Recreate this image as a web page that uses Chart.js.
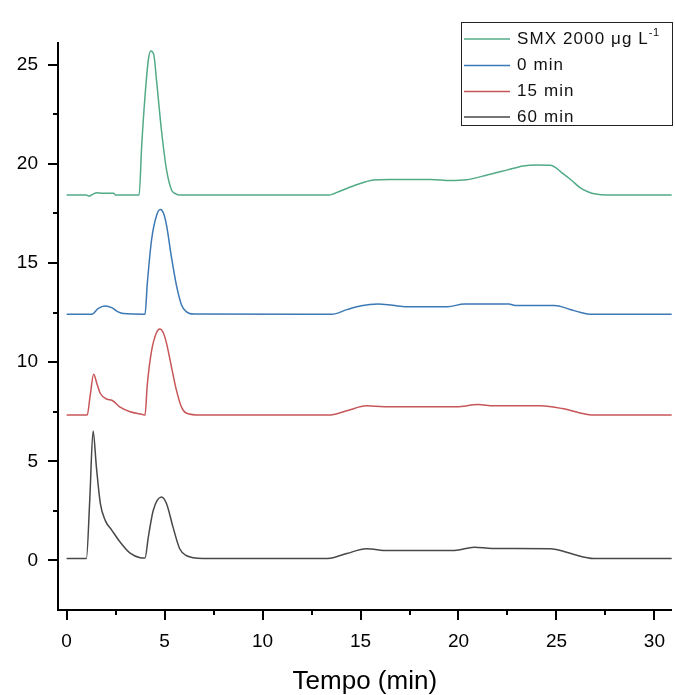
<!DOCTYPE html>
<html>
<head>
<meta charset="utf-8">
<script src="https://cdn.jsdelivr.net/npm/chart.js@4/dist/chart.umd.min.js"></script>
<style>
  body { margin: 0; background: #fff; }
  #wrap { width: 675px; height: 695px; position: relative; }
</style>
</head>
<body>
<div id="wrap"><canvas id="chart"></canvas></div>
<script>
// ─── DATA ───
const legendLabels = ['SMX 2000 μg L⁻¹', '0 min', '15 min', '60 min'];
const lineColors = ['#52ab87', '#3c78b5', '#c85658', '#484848'];

const smxTime = [0, 1.0, 1.15, 1.3, 1.55, 1.8, 2.4, 2.5, 3.7, 3.83, 4.0, 4.17, 4.3, 4.45, 4.59, 4.84, 5.1, 5.35, 5.55, 5.8,
  13.37, 14.0, 14.8, 15.65, 16.5, 18.6, 19.6, 20.4, 21.5, 22.5, 23.3, 24.0, 24.7, 25.35, 25.8, 26.2, 26.6, 27.0, 27.6, 31];
const smxValues = [18.43, 18.43, 18.38, 18.45, 18.55, 18.52, 18.52, 18.43, 18.43, 20.9, 23.4, 25.25, 25.7, 25.5, 24.2, 21.7, 19.7, 18.7, 18.5, 18.43,
  18.43, 18.65, 18.95, 19.19, 19.22, 19.22, 19.16, 19.2, 19.45, 19.7, 19.9, 19.95, 19.93, 19.5, 19.15, 18.8, 18.6, 18.48, 18.43, 18.43];

const t0Time = [0, 1.3, 1.6, 1.97, 2.3, 2.6, 2.9, 4.0, 4.12, 4.34, 4.59, 4.78, 4.95, 5.1, 5.35, 5.6, 5.86, 6.1, 6.5,
  13.54, 14.3, 15.04, 15.9, 16.4, 17.25, 19.44, 20.3, 22.57, 22.9, 24.9, 25.7, 26.2, 26.8, 31];
const t0Values = [12.42, 12.42, 12.7, 12.83, 12.75, 12.55, 12.45, 12.42, 14.0, 16.2, 17.4, 17.7, 17.5, 16.9, 15.3, 13.9, 12.9, 12.55, 12.43,
  12.42, 12.65, 12.85, 12.93, 12.9, 12.8, 12.8, 12.93, 12.93, 12.86, 12.86, 12.66, 12.52, 12.42, 12.42];

const t15Time = [0, 1.05, 1.2, 1.38, 1.55, 1.72, 2.06, 2.31, 2.73, 3.24, 3.83, 4.0, 4.12, 4.34, 4.59, 4.76, 4.95, 5.1, 5.35, 5.6, 5.86, 6.1, 6.87,
  13.37, 14.3, 15.3, 16.2, 19.9, 21.0, 21.8, 24.2, 25.3, 26.2, 26.9, 31];
const t15Values = [7.33, 7.33, 8.3, 9.39, 8.9, 8.42, 8.13, 8.08, 7.73, 7.5, 7.37, 7.33, 8.9, 10.6, 11.5, 11.67, 11.45, 10.95, 9.76, 8.6, 7.74, 7.44, 7.33,
  7.33, 7.55, 7.8, 7.75, 7.75, 7.86, 7.8, 7.8, 7.66, 7.44, 7.33, 7.33];

const t60Time = [0, 1.01, 1.18, 1.35, 1.52, 1.72, 1.97, 2.31, 2.73, 3.24, 3.75, 4.0, 4.17, 4.42, 4.84, 5.1, 5.43, 5.77, 6.1, 6.95,
  13.33, 14.3, 15.3, 16.4, 19.8, 20.8, 21.7, 24.7, 25.3, 25.9, 26.9, 31];
const t60Values = [0.1, 0.1, 3.03, 6.53, 4.71, 2.88, 2.02, 1.52, 0.93, 0.37, 0.14, 0.12, 1.18, 2.52, 3.2, 2.86, 1.68, 0.59, 0.25, 0.1,
  0.1, 0.35, 0.59, 0.5, 0.5, 0.67, 0.6, 0.59, 0.48, 0.3, 0.1, 0.1];

const xTicks = [0, 5, 10, 15, 20, 25, 30];
const yTicks = [0, 5, 10, 15, 20, 25];

const FONT = '"Liberation Sans", Arial, sans-serif';

function pts(xs, ys) {
  return xs.map((x, i) => ({ x: x, y: ys[i] }));
}

const seriesTimes = [smxTime, t0Time, t15Time, t60Time];
const seriesValues = [smxValues, t0Values, t15Values, t60Values];

const datasets = legendLabels.map((lbl, i) => ({
  label: lbl,
  data: pts(seriesTimes[i], seriesValues[i]),
  borderColor: lineColors[i],
  borderWidth: 1.5,
  pointRadius: 0,
  fill: false,
  cubicInterpolationMode: 'monotone'
}));

// ─── TICK MARKS: outward, major every 5, minor every 2.5 ───
const tickMarks = {
  id: 'tickMarks',
  afterDraw(chart) {
    const ctx = chart.ctx;
    ctx.save();
    ctx.strokeStyle = '#000';
    ctx.lineWidth = 2;
    const xs = chart.scales.x, ys = chart.scales.y;
    const area = chart.chartArea;
    xs.ticks.forEach(t => {
      if (t.value < xs.min || t.value > xs.max) return;
      const px = Math.round(xs.getPixelForValue(t.value));
      const len = xTicks.includes(t.value) ? 10 : 5;
      ctx.beginPath();
      ctx.moveTo(px, area.bottom);
      ctx.lineTo(px, area.bottom + len);
      ctx.stroke();
    });
    ys.ticks.forEach(t => {
      if (t.value < ys.min + 0.05 || t.value > ys.max) return;
      const py = Math.round(ys.getPixelForValue(t.value));
      const len = yTicks.includes(t.value) ? 10 : 5;
      ctx.beginPath();
      ctx.moveTo(area.left, py);
      ctx.lineTo(area.left - len, py);
      ctx.stroke();
    });
    ctx.restore();
  }
};

// ─── LEGEND BOX (boxed, top right) ───
const boxLegend = {
  id: 'boxLegend',
  afterDraw(chart) {
    const ctx = chart.ctx;
    ctx.save();
    ctx.fillStyle = '#fff';
    ctx.fillRect(461, 22, 211, 103);
    ctx.strokeStyle = '#222';
    ctx.lineWidth = 1;
    ctx.strokeRect(461.5, 22.5, 211, 103);
    const rows = [39, 65.5, 91.5, 117];
    chart.data.datasets.forEach((ds, i) => {
      const y = rows[i];
      ctx.strokeStyle = ds.borderColor;
      ctx.lineWidth = 1.5;
      ctx.beginPath();
      ctx.moveTo(464, y);
      ctx.lineTo(510, y);
      ctx.stroke();
      ctx.fillStyle = '#111';
      ctx.textBaseline = 'middle';
      ctx.font = '17px ' + FONT;
      ctx.letterSpacing = '1.1px';
      let txt = ds.label;
      let sup = '';
      if (txt.endsWith('⁻¹')) { sup = '-1'; txt = txt.slice(0, -2); }
      ctx.fillText(txt, 517, y);
      if (sup) {
        const w = ctx.measureText(txt).width;
        ctx.font = '11px ' + FONT;
        ctx.letterSpacing = '0.5px';
        ctx.fillText(sup, 517 + w, y - 6);
      }
    });
    ctx.restore();
  }
};

new Chart(document.getElementById('chart'), {
  type: 'line',
  data: { datasets: datasets },
  options: {
    responsive: true,
    maintainAspectRatio: false,
    animation: false,
    layout: { padding: { top: 43, right: 0, left: 0, bottom: 0 } },
    plugins: {
      legend: { display: false },
      tooltip: { enabled: false }
    },
    scales: {
      x: {
        type: 'linear',
        min: -0.44,
        max: 30.88,
        afterFit(scale) { scale.height = 85; },
        border: { display: true, color: '#000', width: 2 },
        grid: { display: true, drawOnChartArea: false, drawTicks: true, tickLength: 10, tickColor: 'rgba(0,0,0,0)' },
        ticks: {
          stepSize: 2.5,
          includeBounds: false,
          autoSkip: false,
          maxRotation: 0,
          maxTicksLimit: 100,
          padding: 10,
          color: '#000',
          font: { family: FONT, size: 19 },
          callback: v => (xTicks.includes(v) ? String(v) : '')
        },
        title: {
          display: true,
          text: 'Tempo (min)',
          color: '#000',
          font: { family: FONT, size: 26, lineHeight: 1 },
          padding: { top: 0, bottom: 0 }
        }
      },
      y: {
        type: 'linear',
        min: -2.5,
        max: 26.1,
        afterFit(scale) { scale.width = 58; },
        border: { display: true, color: '#000', width: 2 },
        grid: { display: true, drawOnChartArea: false, drawTicks: true, tickLength: 10, tickColor: 'rgba(0,0,0,0)' },
        ticks: {
          stepSize: 2.5,
          includeBounds: false,
          autoSkip: false,
          maxTicksLimit: 100,
          padding: 10,
          color: '#000',
          font: { family: FONT, size: 19 },
          callback: v => (yTicks.includes(v) ? String(v) : '')
        }
      }
    }
  },
  plugins: [tickMarks, boxLegend]
});
</script>
</body>
</html>
